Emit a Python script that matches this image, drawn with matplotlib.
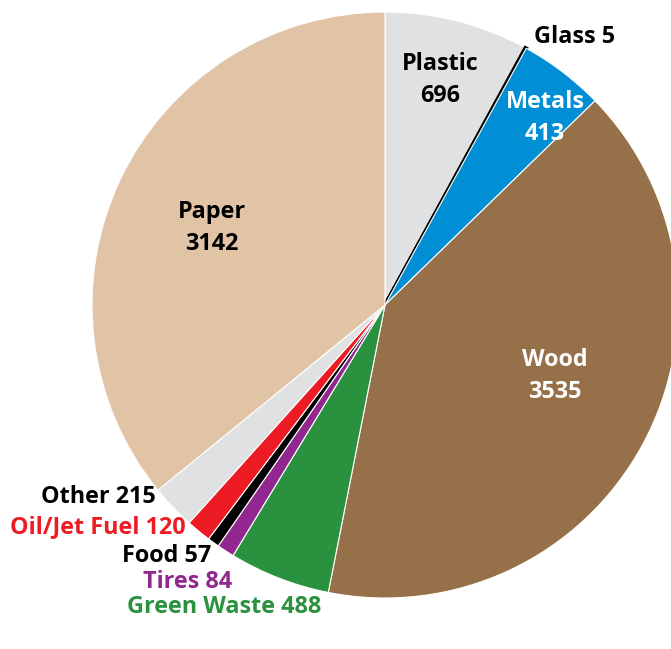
import matplotlib.pyplot as plt

labels = ["Plastic", "Glass", "Metals", "Wood", "Green Waste", "Tires", "Food",
          "Oil/Jet Fuel", "Other", "Paper"]
values = [696, 5, 413, 3535, 488, 84, 57, 120, 215, 3142]
colors = ["#e0e1e3", "#000000", "#008fd5", "#957049", "#2a913e", "#92278f",
          "#000000", "#ed1c24", "#e0e1e3", "#e1c3a6"]

W, H = 671, 649
cx, cy, R = 385, 305, 293

fig = plt.figure(figsize=(W / 100, H / 100), dpi=100)
ax = fig.add_axes([0, 0, 1, 1])

wedges, _ = ax.pie(values, colors=colors, startangle=90, counterclock=False,
                   radius=1, center=(0, 0), frame=True,
                   wedgeprops=dict(edgecolor="white", linewidth=0.8))
wedges[1].set_edgecolor("black")
wedges[1].set_linewidth(2.6)
ax.set_xlim(-cx / R, (W - cx) / R)
ax.set_ylim(-(H - cy) / R, cy / R)
ax.set_aspect("auto")
ax.axis("off")


def pos(px, py):
    return (px - cx) / R, (cy - py) / R


font = dict(family=["Open Sans", "DejaVu Sans"], fontweight="bold", fontsize=16.8)

# labels inside the pie
inside = [("Plastic\n696", 440, 80, "black"),
          ("Metals\n413", 545, 118, "white"),
          ("Wood\n3535", 555, 376, "white"),
          ("Paper\n3142", 212, 228, "black")]
for txt, px, py, c in inside:
    x, y = pos(px, py)
    ax.text(x, y, txt, ha="center", va="center", color=c, linespacing=1.4, **font)

x, y = pos(575, 37)
ax.text(x, y, "Glass 5", ha="center", va="center", color="black", **font)

# labels on the lower left
outside = [("Other 215", 156, 497, "black"),
           ("Oil/Jet Fuel 120", 186, 527, "#ed1c24"),
           ("Food 57", 211, 556, "black"),
           ("Tires 84", 232, 582, "#92278f"),
           ("Green Waste 488", 321, 607, "#2a913e")]
for txt, px, py, c in outside:
    x, y = pos(px, py)
    ax.text(x, y, txt, ha="right", va="center", color=c, **font)

fig.savefig("out.png", dpi=100)
